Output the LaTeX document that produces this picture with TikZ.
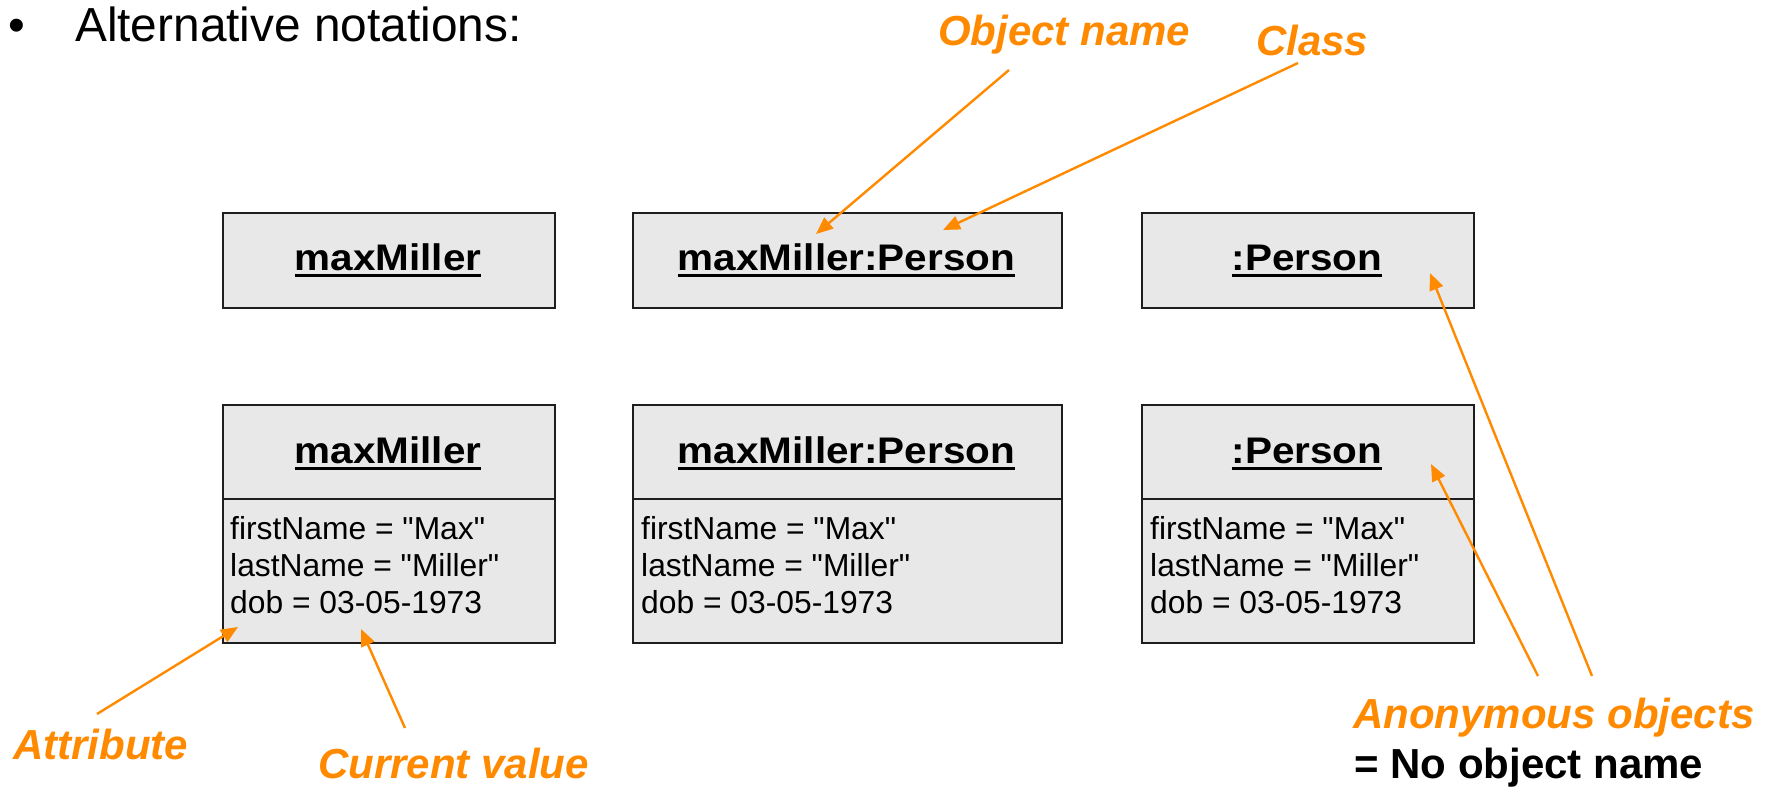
\documentclass[tikz,border=0pt]{standalone}
\usepackage{fontspec}
\setmainfont{Liberation Sans}
\newfontfamily\attrfont{Liberation Sans}[Ligatures=TeXOff]
\usepackage{graphicx}
\usetikzlibrary{arrows.meta}
\definecolor{orng}{HTML}{FF8A00}
\definecolor{boxfill}{HTML}{E8E8E8}
\definecolor{boxline}{HTML}{1E1E1E}
\newcommand\hdrtext[1]{\scalebox{1.094}[1]{\setbox0\hbox{#1}\rlap{\rule[-7pt]{\wd0}{2.8pt}}\box0}}
\begin{document}
\begin{tikzpicture}[x=1pt,y=-1pt,
  objbox/.style={draw=boxline, line width=2.3pt, fill=boxfill, inner sep=0pt, anchor=north west, minimum width=#1},
  topbox/.style={objbox=#1, minimum height=95pt},
  botbox/.style={objbox=#1, minimum height=238pt},
  divline/.style={draw=boxline, line width=2.3pt},
  hdr/.style={inner sep=0pt, anchor=base, font=\fontsize{37}{42}\selectfont\bfseries},
  attr/.style={inner sep=0pt, anchor=base west, font=\attrfont\fontsize{31.8}{37}\selectfont},
  lbl/.style={inner sep=0pt, anchor=base west, text=orng, font=\fontsize{42}{48}\selectfont\bfseries\itshape},
  note/.style={inner sep=0pt, anchor=base west, font=\fontsize{42}{48}\selectfont\bfseries},
  ttl/.style={inner sep=0pt, anchor=base west, font=\fontsize{47.8}{56}\selectfont},
  arr/.style={draw=orng, line width=2.4pt, -{Triangle[length=17pt,width=14pt]}}
]
\useasboundingbox (0,0) rectangle (1780,787);
\fill[white] (0,0) rectangle (1780,787);

% title
\node[ttl] (bul) at (8,41) {•};
\node[ttl] (title) at (75,41) {Alternative notations:};

% top row
\node[topbox=332pt] (t1) at (222,212) {};
\node[topbox=429pt] (t2) at (632,212) {};
\node[topbox=332pt] (t3) at (1141,212) {};
\node[hdr] (t1h) at (388,270) {\hdrtext{maxMiller}};
\node[hdr] (t2h) at (846.5,270) {\hdrtext{maxMiller:Person}};
\node[hdr] (t3h) at (1307,270) {\hdrtext{:Person}};

% bottom row
\node[botbox=332pt] (b1) at (222,404) {};
\node[botbox=429pt] (b2) at (632,404) {};
\node[botbox=332pt] (b3) at (1141,404) {};
\foreach \b in {b1,b2,b3}{
  \draw[divline] ([yshift=-95pt]\b.north west) -- ([yshift=-95pt]\b.north east);
}
\node[hdr] (b1h) at (388,463) {\hdrtext{maxMiller}};
\node[hdr] (b2h) at (846.5,463) {\hdrtext{maxMiller:Person}};
\node[hdr] (b3h) at (1307,463) {\hdrtext{:Person}};

\node[attr] (b1a1) at (230,539) {firstName = "Max"};
\node[attr] (b1a2) at (230,576) {lastName = "Miller"};
\node[attr] (b1a3) at (230,613) {dob = 03-05-1973};
\node[attr] (b2a1) at (641,539) {firstName = "Max"};
\node[attr] (b2a2) at (641,576) {lastName = "Miller"};
\node[attr] (b2a3) at (641,613) {dob = 03-05-1973};
\node[attr] (b3a1) at (1150,539) {firstName = "Max"};
\node[attr] (b3a2) at (1150,576) {lastName = "Miller"};
\node[attr] (b3a3) at (1150,613) {dob = 03-05-1973};

% labels
\node[lbl] (lobj) at (938,45) {Object name};
\node[lbl] (lcls) at (1256,55) {Class};
\node[lbl] (latt) at (13,759) {Attribute};
\node[lbl] (lcur) at (318,778) {Current value};
\node[lbl] (lanon) at (1353,728) {Anonymous objects};
\node[note] (lno) at (1354,778) {= No object name};

% arrow end points
\coordinate (objT) at (1009,70);  \coordinate (objH) at (816,234);
\coordinate (clsT) at (1298,63);  \coordinate (clsH) at (943,230);
\coordinate (attT) at (97,714);   \coordinate (attH) at (238,627);
\coordinate (curT) at (405,728);  \coordinate (curH) at (361,629);
\coordinate (an1T) at (1538,676); \coordinate (an1H) at (1431,464);
\coordinate (an2T) at (1592,676); \coordinate (an2H) at (1430,273);

\draw[arr] (objT) -- (objH);
\draw[arr] (clsT) -- (clsH);
\draw[arr] (attT) -- (attH);
\draw[arr] (curT) -- (curH);
\draw[arr] (an1T) -- (an1H);
\draw[arr] (an2T) -- (an2H);
\end{tikzpicture}
\end{document}
